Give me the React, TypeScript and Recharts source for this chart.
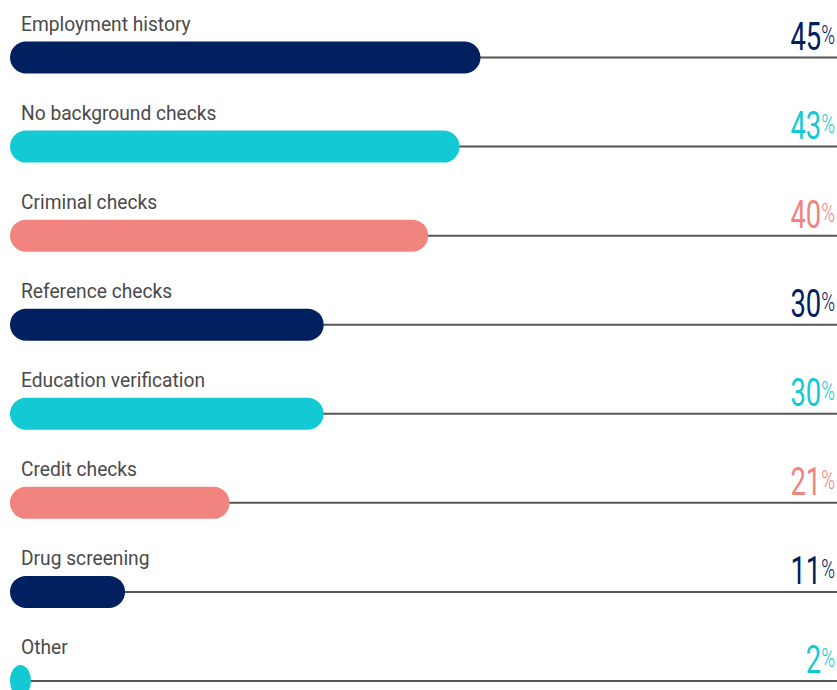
import { Bar, BarChart, LabelList, XAxis, YAxis } from "recharts";

const categories = [
  "Employment history",
  "No background checks",
  "Criminal checks",
  "Reference checks",
  "Education verification",
  "Credit checks",
  "Drug screening",
  "Other",
];
const values = [45, 43, 40, 30, 30, 21, 11, 2];
const barColors = [
  "#00205f",
  "#13cad4",
  "#f2847f",
  "#00205f",
  "#13cad4",
  "#f2847f",
  "#00205f",
  "#13cad4",
];

const data = categories.map((name, i) => ({
  name,
  value: values[i],
  color: barColors[i],
}));

const W = 837;

function PillBar(props: any) {
  const { x, y, width, height, payload } = props;
  if (width <= 0) return null;
  return (
    <rect
      x={x}
      y={y}
      width={width}
      height={height}
      rx={height / 2}
      ry={height / 2}
      fill={payload.color}
    />
  );
}

function TrackLine(props: any) {
  const { x, y, width, height } = props;
  const cy = y + height / 2;
  return <line x1={x} x2={x + width} y1={cy} y2={cy} stroke="#555" strokeWidth={2} />;
}

function NameLabel(props: any) {
  const { x, y, value } = props;
  return (
    <g transform={`translate(${x + 11}, ${y - 11}) scale(0.96, 1)`}>
      <text x={0} y={0} fontSize={20} fill="#4a4a4a" fontFamily="Roboto">
        {value}
      </text>
    </g>
  );
}

function ValueLabel(props: any) {
  const { y, height, index, value } = props;
  // condensed number with a small raised percent sign, right-aligned to the edge
  return (
    <g transform={`translate(${W - 2}, ${y + height / 2 - 8}) scale(0.72, 1)`}>
      <text x={0} y={0} textAnchor="end" fontFamily="Roboto" fill={barColors[index]}>
        <tspan fontSize={38}>{value}</tspan>
        <tspan fontSize={26} fontWeight={300} dy={-6}>%</tspan>
      </text>
    </g>
  );
}

export default function App() {
  return (
    <div
      style={{
        position: "fixed",
        top: 0,
        left: 0,
        width: W,
        height: 690,
        overflow: "hidden",
        background: "#fff",
      }}
    >
      <BarChart
        width={W}
        height={725}
        data={data}
        layout="vertical"
        margin={{ top: 12.5, right: 0, left: 10, bottom: 0 }}
      >
        <XAxis type="number" domain={[0, 79.1]} hide />
        <YAxis type="category" dataKey="name" hide />
        <Bar
          dataKey="value"
          barSize={32}
          background={<TrackLine />}
          shape={<PillBar />}
          isAnimationActive={false}
        >
          <LabelList dataKey="name" content={<NameLabel />} />
          <LabelList dataKey="value" content={<ValueLabel />} />
        </Bar>
      </BarChart>
    </div>
  );
}
